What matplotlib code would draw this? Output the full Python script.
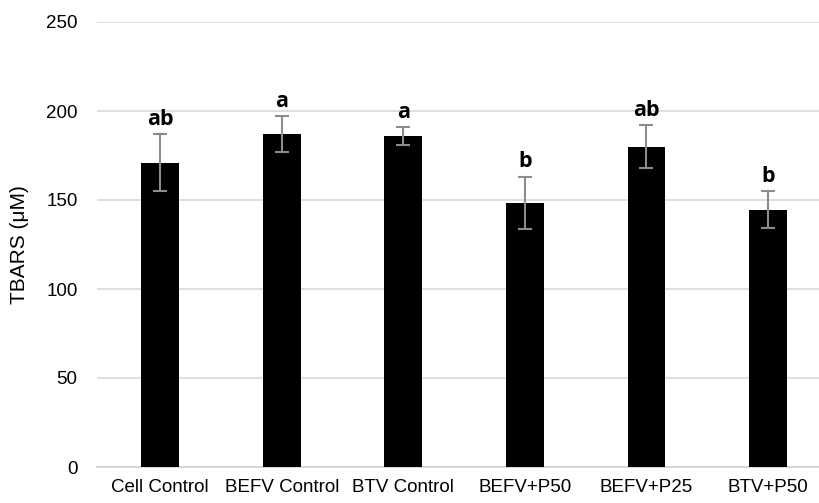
import numpy as np
import matplotlib.pyplot as plt

plt.rcParams['font.family'] = ['Liberation Sans', 'DejaVu Sans']

# data
groups = ['Cell Control', 'BEFV Control', 'BTV Control', 'BEFV+P50', 'BEFV+P25', 'BTV+P50']
tbars = [171, 187, 186, 148.5, 180, 144.5]
err = [16, 10, 5, 14.7, 12, 10.5]
letters = ['ab', 'a', 'a', 'b', 'ab', 'b']

fig = plt.figure(figsize=(8.19, 5.03), dpi=100)
ax = fig.add_axes([97 / 819, 1 - 467 / 503, 1 - 97 / 819, (467 - 22) / 503])

x = np.arange(len(groups))
ax.bar(x, tbars, width=0.31, color='black', zorder=3)
ax.errorbar(x, tbars, yerr=err, fmt='none', ecolor='#8c8c8c', elinewidth=1.5,
            capsize=5, capthick=1.5, zorder=4)

# significance letters above the error bars
for i in range(len(groups)):
    ax.annotate(letters[i], (x[i], tbars[i] + err[i]), xytext=(0, 3),
                textcoords='offset points', ha='center', va='bottom',
                fontsize=15.5, fontweight='bold', family=['Open Sans', 'DejaVu Sans'])

ax.set_ylim(0, 250)
ax.set_yticks(np.arange(0, 251, 50))
ax.set_xlim(-0.52, 5.42)
ax.set_xticks(x)
ax.set_xticklabels(groups)
ax.tick_params(axis='both', length=0, labelsize=13.5, colors='black')
ax.tick_params(axis='x', pad=9)
ax.tick_params(axis='y', pad=14)
ax.grid(axis='y', color='#d9d9d9', linewidth=1.2, zorder=0)
for s in ['top', 'right', 'left']:
    ax.spines[s].set_visible(False)
ax.spines['bottom'].set_color('#d0d0d0')
ax.spines['bottom'].set_linewidth(1.2)
ax.set_ylabel('TBARS (μM)', fontsize=15, labelpad=12)

plt.savefig('out.png', dpi=100)
